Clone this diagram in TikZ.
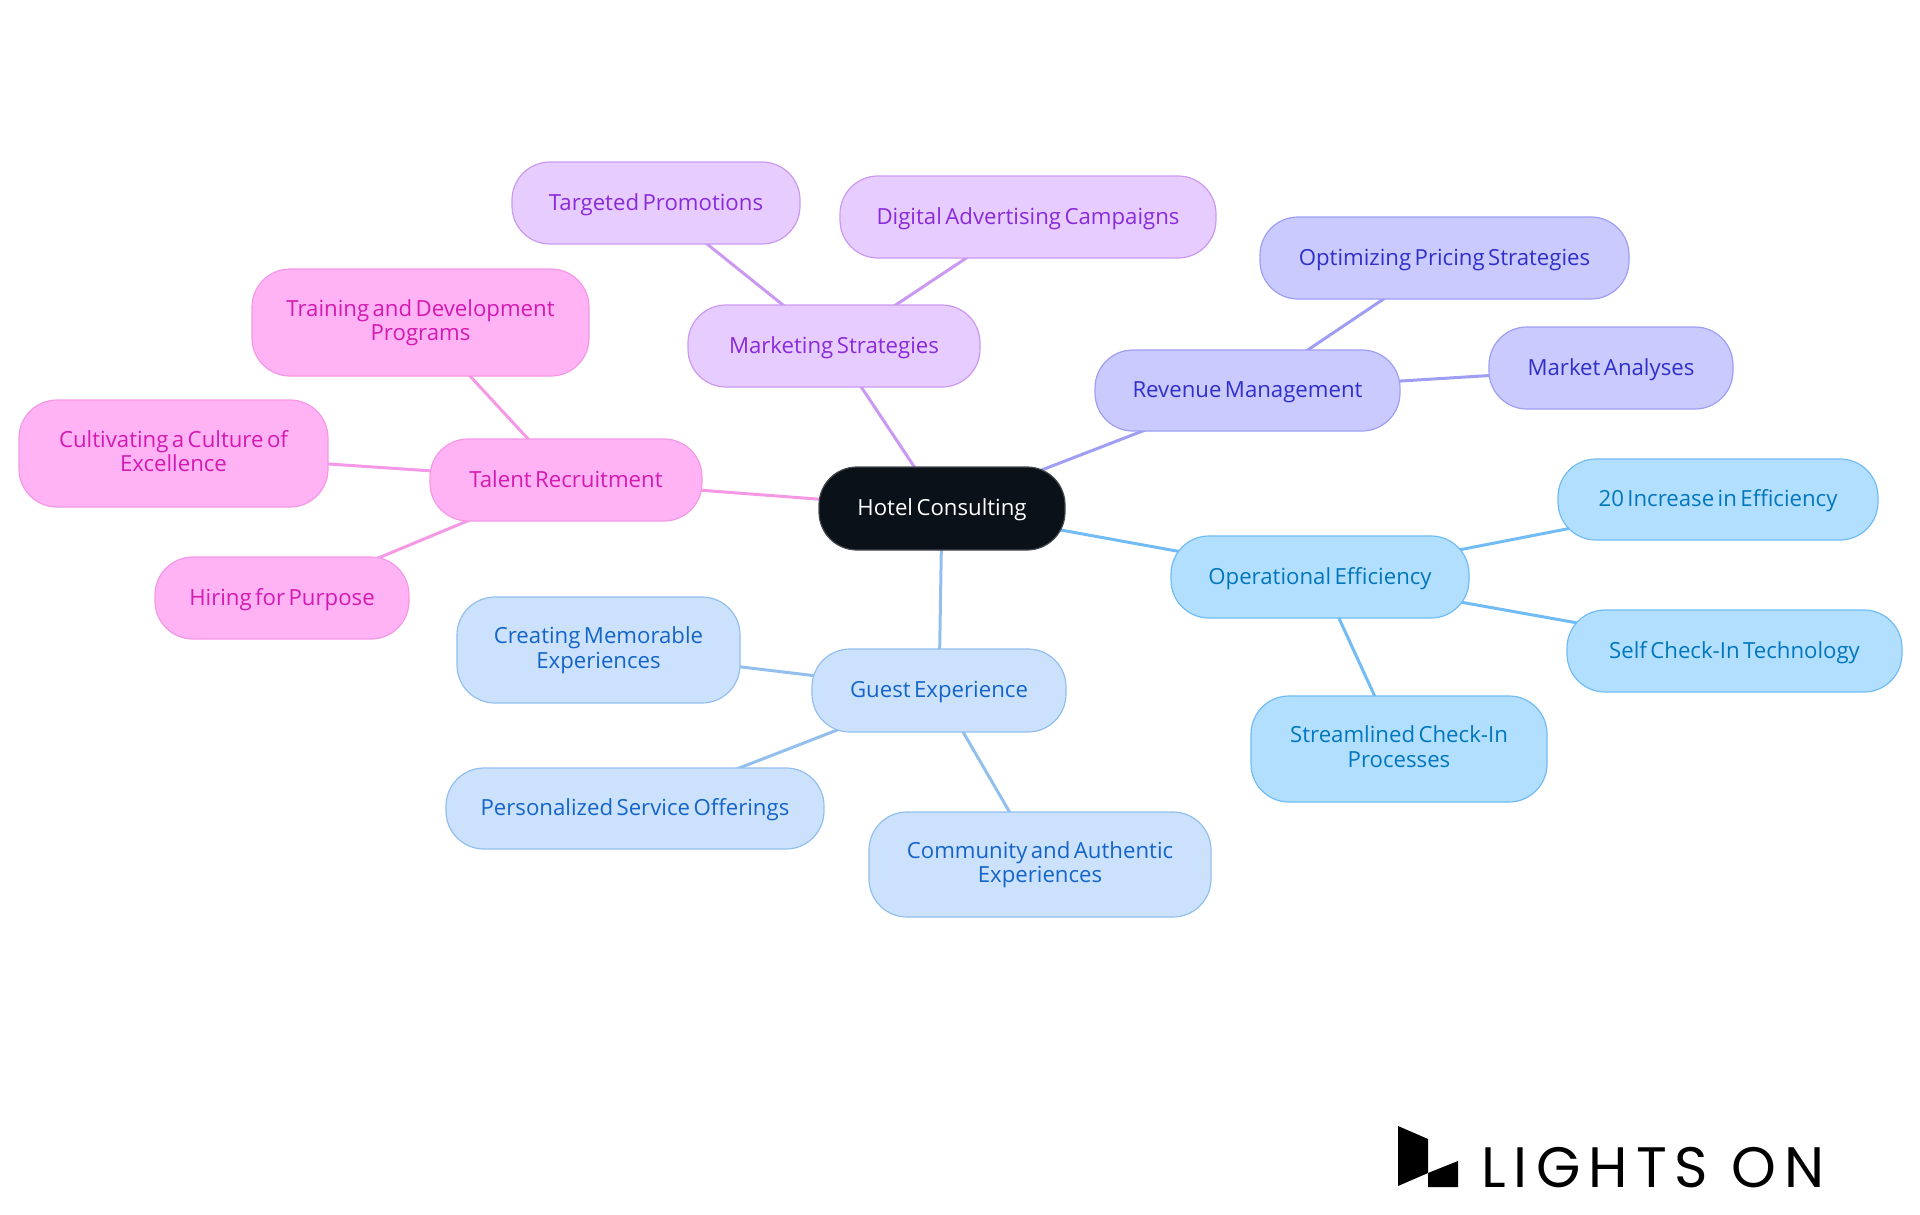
\documentclass[tikz,border=0pt]{standalone}
\usepackage{fontspec}
\setmainfont[WordSpace=0.6]{Open Sans}
\newfontfamily\logofont[LetterSpace=14.2]{Poppins}
\usepackage{tikz}
\usetikzlibrary{backgrounds}
\definecolor{rootfill}{HTML}{0B1118}
\definecolor{rootline}{HTML}{45494E}
\definecolor{guestfill}{HTML}{CCE2FC}
\definecolor{guestline}{HTML}{93BFEF}
\definecolor{guesttext}{HTML}{1565C8}
\definecolor{opfill}{HTML}{B3DFFF}
\definecolor{opline}{HTML}{72BCF5}
\definecolor{optext}{HTML}{0277BD}
\definecolor{revfill}{HTML}{CACAFF}
\definecolor{revline}{HTML}{9E9EF5}
\definecolor{revtext}{HTML}{3030C8}
\definecolor{mktfill}{HTML}{E6CCFF}
\definecolor{mktline}{HTML}{CC99F2}
\definecolor{mkttext}{HTML}{8A2BD9}
\definecolor{talfill}{HTML}{FFB3F5}
\definecolor{talline}{HTML}{F598E6}
\definecolor{taltext}{HTML}{D41AB0}
\tikzset{
  mapnode/.style={rounded corners=38pt, line width=1.2pt, inner sep=0pt, align=center,
    font=\fontsize{22.2}{24.5}\selectfont,
    execute at begin node={\leavevmode\rule{0pt}{20pt}},
    execute at end node={\rule[-4.5pt]{0pt}{0pt}}},
  rootnode/.style={mapnode, fill=rootfill, draw=rootline, text=white},
  guestnode/.style={mapnode, fill=guestfill, draw=guestline, text=guesttext},
  opnode/.style={mapnode, fill=opfill, draw=opline, text=optext},
  revnode/.style={mapnode, fill=revfill, draw=revline, text=revtext},
  mktnode/.style={mapnode, fill=mktfill, draw=mktline, text=mkttext},
  talnode/.style={mapnode, fill=talfill, draw=talline, text=taltext},
  maplink/.style={line width=3pt}
}
\begin{document}
\begin{tikzpicture}[x=1pt,y=-1pt]
\useasboundingbox (0,0) rectangle (1920,1215);

% Centre
\node[rootnode, minimum width=246pt, minimum height=83pt] (hotel) at (942,508.5) {Hotel Consulting};

% Guest branch
\node[guestnode, minimum width=254pt, minimum height=83pt] (guest) at (939,690.5) {Guest Experience};
\node[guestnode, minimum width=283pt, minimum height=106pt] (creating) at (598.5,650) {Creating Memorable\\Experiences};
\node[guestnode, minimum width=378pt, minimum height=81pt] (personal) at (635,808.5) {Personalized Service Offerings};
\node[guestnode, minimum width=342pt, minimum height=105pt] (community) at (1040,864.5) {Community and Authentic\\Experiences};

% Operations branch
\node[opnode, minimum width=298pt, minimum height=82pt] (operational) at (1320,577) {Operational Efficiency};
\node[opnode, minimum width=320pt, minimum height=81pt] (increase) at (1718,499.5) {20 Increase in Efficiency};
\node[opnode, minimum width=335pt, minimum height=82pt] (selfcheck) at (1734.5,651) {Self Check-In Technology};
\node[opnode, minimum width=296pt, minimum height=106pt] (streamlined) at (1399,749) {Streamlined Check-In\\Processes};

% Revenue branch
\node[revnode, minimum width=305pt, minimum height=81pt] (revenue) at (1247.5,390.5) {Revenue Management};
\node[revnode, minimum width=369pt, minimum height=82pt] (pricing) at (1444.5,258) {Optimizing Pricing Strategies};
\node[revnode, minimum width=244pt, minimum height=82pt] (market) at (1611,368) {Market Analyses};

% Marketing branch
\node[mktnode, minimum width=292pt, minimum height=82pt] (marketing) at (834,346) {Marketing Strategies};
\node[mktnode, minimum width=288pt, minimum height=82pt] (promos) at (656,203) {Targeted Promotions};
\node[mktnode, minimum width=376pt, minimum height=82pt] (digital) at (1028,217) {Digital Advertising Campaigns};

% Talent branch
\node[talnode, minimum width=272pt, minimum height=82pt] (talent) at (566,480) {Talent Recruitment};
\node[talnode, minimum width=337pt, minimum height=107pt] (training) at (420.5,322.5) {Training and Development\\Programs};
\node[talnode, minimum width=309pt, minimum height=107pt] (culture) at (173.5,453.5) {Cultivating a Culture of\\Excellence};
\node[talnode, minimum width=254pt, minimum height=82pt] (hiring) at (282,598) {Hiring for Purpose};

% Links run behind the boxes
\begin{scope}[on background layer]
\foreach \a/\b/\c in {hotel/guest/guestline, guest/creating/guestline, guest/personal/guestline, guest/community/guestline,
    hotel/operational/opline, operational/increase/opline, operational/selfcheck/opline, operational/streamlined/opline,
    hotel/revenue/revline, revenue/pricing/revline, revenue/market/revline,
    hotel/marketing/mktline, marketing/promos/mktline, marketing/digital/mktline,
    hotel/talent/talline, talent/training/talline, talent/culture/talline, talent/hiring/talline} {
    \draw[maplink, \c] (\a.center) -- (\b.center);
}
\end{scope}

% Logo
\fill[black] (1398,1126) -- (1428,1139) -- (1428,1173) -- (1398,1186) -- cycle;
\fill[black] (1428,1173) -- (1458,1161) -- (1458,1187) -- (1428,1187) -- cycle;
\node[anchor=base west, inner sep=0pt, font=\fontsize{57}{57}\selectfont\logofont] (logo) at (1481,1187) {LIGHTS ON};
\end{tikzpicture}
\end{document}
